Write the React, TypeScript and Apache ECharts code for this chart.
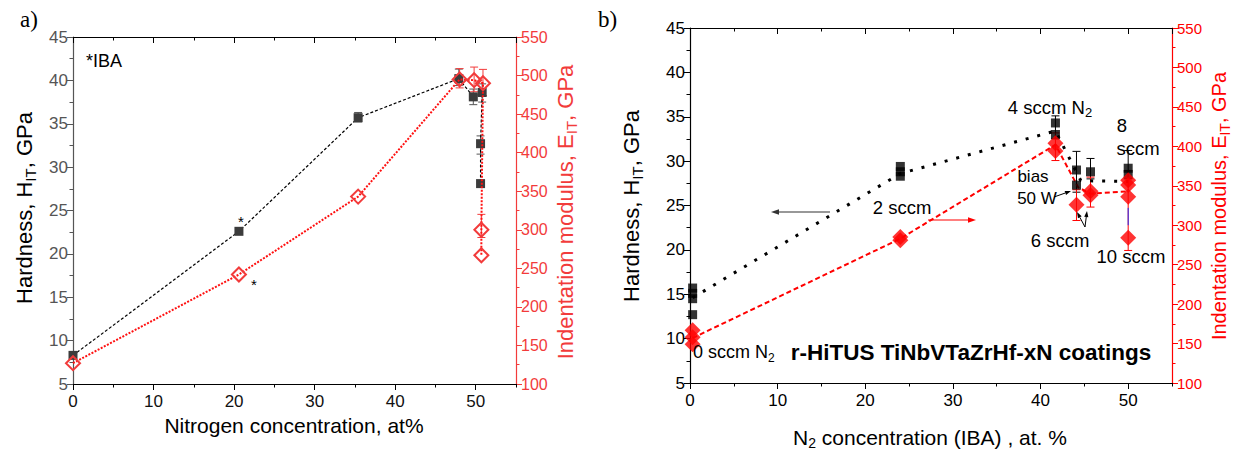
import React, { useEffect, useRef } from 'react';
import * as echarts from 'echarts';

// ---------- Panel a data ----------
const aHardX = [0, 20.6, 35.4, 47.9, 49.7, 50.8, 50.6, 50.6];
const aHardY = [8.3, 22.6, 35.7, 40.2, 38.1, 38.6, 32.7, 28.1];
const aModX = [0, 20.6, 35.4, 48.0, 49.8, 50.9, 50.7, 50.7];
const aModY = [127, 242, 343, 495, 494, 490, 300, 267];
const aHardErrX = [0, 35.4, 47.9, 49.7, 50.8, 50.6];
const aHardErrLo = [8.0, 35.2, 39.4, 37.2, 37.5, 31.5];
const aHardErrHi = [8.6, 36.3, 41.3, 39.0, 39.6, 33.6];
const aModErrX = [48.0, 49.8, 50.9, 50.7];
const aModErrLo = [484, 479, 474, 290];
const aModErrHi = [509, 511, 508, 320];

// ---------- Panel b data ----------
const bHardX = [0.3, 0.3, 0.3, 0.3, 24, 24, 24, 41.7, 41.7, 44.1, 44.1, 45.7, 50, 50];
const bHardY = [15.7, 15.1, 14.5, 12.7, 29.4, 28.8, 28.3, 34.3, 33.0, 29.0, 27.3, 28.8, 29.2, 28.5];
const bModX = [0.3, 0.3, 0.3, 24, 24, 41.7, 41.7, 44.1, 45.7, 45.7, 50, 50, 50, 50];
const bModY = [167, 158, 149, 285, 281, 404, 394, 326, 343, 338, 357, 351, 336, 284];
const bHardLineX = [0.3, 24, 41.7, 44.6, 50];
const bHardLineY = [14.6, 28.6, 33.4, 27.8, 27.7];
const bModLineX = [0.3, 24, 41.7, 44.3, 45.7, 50];
const bModLineY = [157, 283, 402, 348, 340, 343];
const bHardErrX = [41.7, 44.1, 45.7, 50];
const bHardErrLo = [32.5, 26.5, 28.0, 28.0];
const bHardErrHi = [35.1, 31.1, 30.3, 31.2];
const bModErrX = [41.7, 44.1, 45.7, 50];
const bModErrLo = [382, 306, 323, 268];
const bModErrHi = [417, 345, 361, 369];
const bBlueErrX = [50];
const bBlueErrLo = [300];
const bBlueErrHi = [322];

const xTicks = [0, 10, 20, 30, 40, 50];

const FONT = '"Liberation Sans", Arial, sans-serif';
const RED_A = '#f23b3b';
const RED_B = '#ff0000';

const zip = (xs: number[], ys: number[]) => xs.map((x, i) => [x, ys[i]]);
const zip3 = (xs: number[], a: number[], b: number[]) => xs.map((x, i) => [x, a[i], b[i]]);

function errSeries(xi: number, yi: number, data: number[][], color: string, cap = 4) {
  return {
    type: 'custom',
    xAxisIndex: xi,
    yAxisIndex: yi,
    data,
    z: 1,
    silent: true,
    renderItem: (_p: any, api: any) => {
      const x = api.value(0);
      const p1 = api.coord([x, api.value(1)]);
      const p2 = api.coord([x, api.value(2)]);
      const st = { stroke: color, lineWidth: 1 };
      return {
        type: 'group',
        children: [
          { type: 'line', shape: { x1: p1[0], y1: p1[1], x2: p2[0], y2: p2[1] }, style: st },
          { type: 'line', shape: { x1: p1[0] - cap, y1: p1[1], x2: p1[0] + cap, y2: p1[1] }, style: st },
          { type: 'line', shape: { x1: p2[0] - cap, y1: p2[1], x2: p2[0] + cap, y2: p2[1] }, style: st },
        ],
      };
    },
  };
}

function xAx(grid: number, pos: 'top' | 'bottom', major: boolean, labelColor: string, fs: number) {
  return {
    type: 'value',
    gridIndex: grid,
    min: 0,
    max: 55,
    interval: major ? 10 : 5,
    position: pos,
    axisLine: { show: major, onZero: false, lineStyle: { color: '#000', width: 1.2 } },
    axisTick: { show: true, inside: pos === 'top', length: major ? 6 : 3.5, lineStyle: { color: '#000', width: 1 } },
    axisLabel: {
      show: major && pos === 'bottom',
      color: labelColor,
      fontSize: fs,
      fontFamily: FONT,
      margin: 9,
      showMaxLabel: false,
      formatter: (v: number) => (xTicks.includes(v) ? String(v) : ''),
    },
    splitLine: { show: false },
  };
}

function yAx(grid: number, pos: 'left' | 'right', color: string, labelColor: string, fs: number, min: number, max: number, interval: number) {
  return {
    type: 'value',
    gridIndex: grid,
    position: pos,
    min,
    max,
    interval,
    axisLine: { show: true, onZero: false, lineStyle: { color, width: 1.2 } },
    axisTick: { show: true, inside: false, length: 6, lineStyle: { color } },
    minorTick: { show: true, splitNumber: 2, length: 3.5, lineStyle: { color } },
    axisLabel: { color: labelColor, fontSize: fs, fontFamily: FONT, margin: 5 },
    splitLine: { show: false },
    minorSplitLine: { show: false },
  };
}

function richTitle(x: number, y: number, parts: [string, boolean][], color: string, fs: number, rotate: boolean) {
  const text = parts.map(([t, s]) => `{${s ? 's' : 'm'}|${t}}`).join('');
  return {
    type: 'text',
    x,
    y,
    rotation: rotate ? Math.PI / 2 : 0,
    z: 100,
    style: {
      text,
      align: 'center',
      verticalAlign: 'middle',
      rich: {
        m: { fontSize: fs, fontFamily: FONT, fill: color, lineHeight: Math.round(fs * 1.25) },
        s: { fontSize: Math.round(fs * 0.68), fontFamily: FONT, fill: color, lineHeight: Math.round(fs * 0.7), verticalAlign: 'bottom' },
      },
    },
  };
}

function txt(x: number, y: number, text: string, fs: number, extra: any = {}) {
  return {
    type: 'text',
    x,
    y,
    z: 100,
    style: { text, fontSize: fs, fontFamily: FONT, fill: '#000', align: 'center', verticalAlign: 'middle', ...extra },
  };
}

function arrow(x1: number, y1: number, x2: number, y2: number, color: string, head = 7, w = 1) {
  const dx = x2 - x1, dy = y2 - y1;
  const L = Math.hypot(dx, dy);
  const ux = dx / L, uy = dy / L;
  const nx = -uy, ny = ux;
  const bx = x2 - ux * head, by = y2 - uy * head;
  const hw = head * 0.35;
  return [
    { type: 'line', z: 100, shape: { x1, y1, x2: bx, y2: by }, style: { stroke: color, lineWidth: w } },
    {
      type: 'polygon',
      z: 100,
      shape: { points: [[x2, y2], [bx + nx * hw, by + ny * hw], [bx - nx * hw, by - ny * hw]] },
      style: { fill: color },
    },
  ];
}

export default function App() {
  const ref = useRef<HTMLDivElement>(null);
  useEffect(() => {
    document.body.style.margin = '0';
    const chart = echarts.init(ref.current!, null, { renderer: 'svg' });
    const option: any = {
      animation: false,
      backgroundColor: '#fff',
      grid: [
        { left: 73, top: 37, width: 443, height: 347 },
        { left: 690, top: 28, width: 482, height: 355 },
      ],
      xAxis: [
        xAx(0, 'bottom', true, '#111', 17),
        xAx(0, 'bottom', false, '#111', 17),
        xAx(0, 'top', true, '#111', 17),
        xAx(0, 'top', false, '#111', 17),
        xAx(1, 'bottom', true, '#000', 17),
        xAx(1, 'bottom', false, '#000', 17),
        xAx(1, 'top', true, '#000', 17),
        xAx(1, 'top', false, '#000', 17),
      ],
      yAxis: [
        yAx(0, 'left', '#555', '#555', 17, 5, 45, 5),
        yAx(0, 'right', RED_A, RED_A, 16, 100, 550, 50),
        yAx(1, 'left', '#000', '#000', 17, 5, 45, 5),
        yAx(1, 'right', RED_B, RED_B, 15, 100, 550, 50),
      ],
      series: [
        // panel a
        errSeries(0, 0, zip3(aHardErrX, aHardErrLo, aHardErrHi), '#555'),
        errSeries(0, 1, zip3(aModErrX, aModErrLo, aModErrHi), RED_A),
        {
          type: 'line',
          xAxisIndex: 0,
          yAxisIndex: 0,
          data: zip(aHardX, aHardY),
          symbol: 'rect',
          symbolSize: 9,
          itemStyle: { color: '#3c3c3c' },
          lineStyle: { color: '#000', width: 1.2, type: [3, 2] },
          z: 3,
        },
        {
          type: 'line',
          xAxisIndex: 0,
          yAxisIndex: 1,
          data: zip(aModX, aModY),
          symbol: 'diamond',
          symbolSize: 14,
          itemStyle: { color: 'rgba(255,255,255,0)', borderColor: RED_A, borderWidth: 2 },
          lineStyle: { color: '#ff1010', width: 2, type: [2, 1.5] },
          z: 4,
        },
        // panel b
        errSeries(4, 2, zip3(bHardErrX, bHardErrLo, bHardErrHi), '#000'),
        errSeries(4, 3, zip3(bModErrX, bModErrLo, bModErrHi), RED_B),
        errSeries(4, 3, zip3(bBlueErrX, bBlueErrLo, bBlueErrHi), '#2030ff', 0),
        {
          type: 'line',
          xAxisIndex: 4,
          yAxisIndex: 2,
          data: zip(bHardLineX, bHardLineY),
          showSymbol: false,
          symbol: 'none',
          lineStyle: { color: '#000', width: 3, type: [3, 9] },
          z: 2,
        },
        {
          type: 'line',
          xAxisIndex: 4,
          yAxisIndex: 3,
          data: zip(bModLineX, bModLineY),
          showSymbol: false,
          symbol: 'none',
          lineStyle: { color: RED_B, width: 2, type: [5, 3] },
          z: 2,
        },
        {
          type: 'scatter',
          xAxisIndex: 4,
          yAxisIndex: 2,
          data: zip(bHardX, bHardY),
          symbol: 'rect',
          symbolSize: 9,
          itemStyle: { color: '#000' },
          z: 3,
        },
        {
          type: 'scatter',
          xAxisIndex: 4,
          yAxisIndex: 3,
          data: zip(bModX, bModY),
          symbol: 'diamond',
          symbolSize: 16,
          itemStyle: { color: RED_B },
          z: 4,
        },
      ],
      graphic: [
        // panel a
        { type: 'text', x: 20, y: 8, z: 100, style: { text: 'a)', fontSize: 23, fontFamily: '"Liberation Serif", serif', fill: '#000' } },
        txt(104, 61, '*IBA', 18),
        txt(241, 221, '*', 15),
        txt(254, 284, '*', 15),
        richTitle(24, 208, [['Hardness, H', false], ['IT', true], [', GPa', false]], '#000', 22, true),
        richTitle(565, 212, [['Indentation modulus, E', false], ['IT', true], [', GPa', false]], RED_A, 22, true),
        txt(294, 425, 'Nitrogen concentration, at%', 21),
        // panel b
        { type: 'text', x: 598, y: 8, z: 100, style: { text: 'b)', fontSize: 23, fontFamily: '"Liberation Serif", serif', fill: '#000' } },
        richTitle(631, 206, [['Hardness, H', false], ['IT', true], [', GPa', false]], '#000', 22, true),
        richTitle(1219, 206, [['Indentation modulus, E', false], ['IT', true], [', GPa', false]], RED_B, 20, true),
        richTitle(930, 437, [['N', false], ['2', true], [' concentration (IBA) , at. %', false]], '#000', 21, false),
        richTitle(1050, 107, [['4 sccm N', false], ['2', true]], '#000', 18.5, false),
        txt(1122, 125, '8', 18.5),
        txt(1138, 148, 'sccm', 18.5),
        txt(1033, 176, 'bias', 17),
        txt(1037, 198, '50 W', 17),
        txt(902, 207, '2 sccm', 18.5),
        txt(1060, 240, '6 sccm', 18.5),
        txt(1131, 256, '10 sccm', 18.5),
        { type: 'text', x: 693, y: 352, z: 100, style: { text: '{m|0 sccm N}{s|2}', verticalAlign: 'middle', rich: {
          m: { fontSize: 18, fontFamily: FONT, fill: '#000', lineHeight: 23 },
          s: { fontSize: 12, fontFamily: FONT, fill: '#000', lineHeight: 13, verticalAlign: 'bottom' },
        } } },
        txt(971, 352, 'r-HiTUS TiNbVTaZrHf-xN coatings', 22.5, { fontWeight: 'bold' }),
        ...arrow(1054, 197, 1071, 191, '#000', 6),
        ...arrow(1085, 227, 1077, 212, '#000', 6),
        ...arrow(1085, 227, 1087, 211, '#000', 6),
        ...arrow(830, 212, 771, 212, '#333', 8, 1.2),
        ...arrow(928, 220, 976, 220, RED_B, 8, 1.2),
      ],
    };
    chart.setOption(option);
    return () => chart.dispose();
  }, []);
  return <div ref={ref} style={{ width: 1233, height: 451 }} />;
}
